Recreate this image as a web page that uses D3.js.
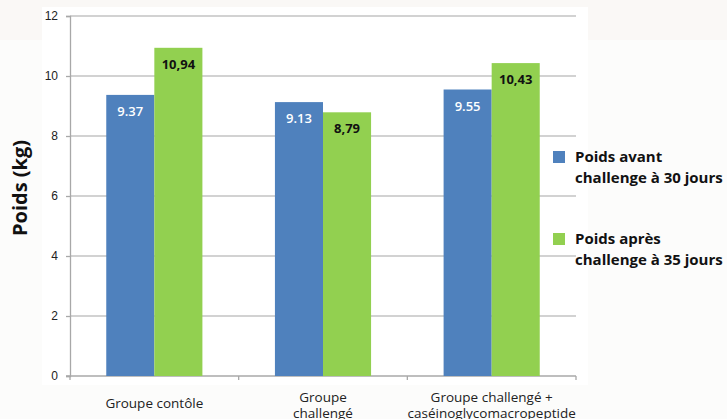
<!DOCTYPE html>
<html>
<head>
<meta charset="utf-8">
<script src="https://cdn.jsdelivr.net/npm/d3@7"></script>
<style>
  body { margin: 0; background: #fcfcfb; }
  svg { display: block; }
</style>
</head>
<body>
<svg id="chart"></svg>
<script>
var categories = [["Groupe contôle"], ["Groupe", "challengé"], ["Groupe challengé +", "caséinoglycomacropeptide"]];
var seriesNames = [["Poids avant", "challenge à 30 jours"], ["Poids après", "challenge à 35 jours"]];
var avant = [9.37, 9.13, 9.55];
var apres = [10.94, 8.79, 10.43];
var labelsAvant = ["9.37", "9.13", "9.55"];
var labelsApres = ["10,94", "8,79", "10,43"];
var yTicks = [0, 2, 4, 6, 8, 10, 12];

var width = 727, height = 419;
var margin = {top: 16, left: 70, right: 151, bottom: 43};
var colors = ["#4f81bd", "#92d050"];
var font = "Open Sans, Lato, sans-serif";

var svg = d3.select("#chart").attr("width", width).attr("height", height);

// backgrounds
svg.append("rect").attr("x", 0).attr("y", 0).attr("width", width).attr("height", 40).attr("fill", "#faf8f6");
svg.append("rect").attr("x", 42).attr("y", 7).attr("width", 546).attr("height", 378).attr("fill", "#ffffff");

var x0 = d3.scaleBand()
    .domain(d3.range(categories.length))
    .range([margin.left, width - margin.right])
    .paddingInner(0.43).paddingOuter(0.215);
var x1 = d3.scaleBand().domain([0, 1]).range([0, x0.bandwidth()]);
var y = d3.scaleLinear().domain([0, 12]).range([height - margin.bottom, margin.top]);

var fullBand = (width - margin.right - margin.left) / categories.length;

// gridlines
svg.append("g")
    .selectAll("line").data(yTicks.filter(function (d) { return d > 0; }))
    .enter().append("line")
    .attr("x1", margin.left).attr("x2", width - margin.right)
    .attr("y1", function (d) { return y(d); }).attr("y2", function (d) { return y(d); })
    .attr("stroke", "#c3c3c3").attr("stroke-width", 1.3);

// y axis
var yAxis = svg.append("g")
    .attr("transform", "translate(" + margin.left + ",0)")
    .call(d3.axisLeft(y).tickValues(yTicks).tickSize(4).tickPadding(8));
yAxis.select(".domain").attr("stroke", "#a8a8a8").attr("stroke-width", 1.3);
yAxis.selectAll(".tick line").attr("stroke", "#a8a8a8").attr("stroke-width", 1.3);
yAxis.selectAll("text").attr("font-family", "Liberation Sans, Arial, sans-serif")
    .attr("font-size", "12px").attr("fill", "#222");

// x axis line and ticks
var xa = svg.append("g");
xa.append("line").attr("x1", margin.left - 4).attr("x2", width - margin.right)
    .attr("y1", y(0)).attr("y2", y(0)).attr("stroke", "#a8a8a8").attr("stroke-width", 1.3);
xa.selectAll(".xt").data(d3.range(categories.length + 1))
    .enter().append("line")
    .attr("x1", function (d) { return margin.left + d * fullBand; })
    .attr("x2", function (d) { return margin.left + d * fullBand; })
    .attr("y1", y(0)).attr("y2", y(0) + 4)
    .attr("stroke", "#a8a8a8").attr("stroke-width", 1.3);

// bars
var rows = categories.map(function (c, i) {
    return [{i: i, s: 0, v: avant[i], t: labelsAvant[i]}, {i: i, s: 1, v: apres[i], t: labelsApres[i]}];
});
var groups = svg.selectAll(".grp").data(rows).enter().append("g")
    .attr("transform", function (d, i) { return "translate(" + x0(i) + ",0)"; });
groups.selectAll("rect").data(function (d) { return d; })
    .enter().append("rect")
    .attr("x", function (d) { return x1(d.s); })
    .attr("y", function (d) { return y(d.v); })
    .attr("width", x1.bandwidth())
    .attr("height", function (d) { return y(0) - y(d.v); })
    .attr("fill", function (d) { return colors[d.s]; });
groups.selectAll("text").data(function (d) { return d; })
    .enter().append("text")
    .attr("x", function (d) { return x1(d.s) + x1.bandwidth() / 2; })
    .attr("y", function (d) { return y(d.v) + 21; })
    .attr("text-anchor", "middle")
    .attr("font-family", font)
    .attr("font-weight", function (d) { return d.s === 0 ? "600" : "bold"; })
    .attr("font-size", "13px")
    .attr("fill", function (d) { return d.s === 0 ? "#ffffff" : "#111"; })
    .text(function (d) { return d.t; });

// category labels
svg.selectAll(".cat").data(categories).enter().append("text")
    .attr("text-anchor", "middle")
    .attr("font-family", font)
    .attr("font-size", "13.5px")
    .attr("fill", "#222")
    .each(function (d, i) {
        var t = d3.select(this);
        var cx = margin.left + (i + 0.5) * fullBand;
        var y0 = d.length === 1 ? 408 : 402;
        d.forEach(function (line, k) {
            t.append("tspan").attr("x", cx).attr("y", y0 + k * 16).text(line);
        });
    });

// y title
svg.append("text")
    .attr("transform", "translate(27,188) rotate(-90)")
    .attr("text-anchor", "middle")
    .attr("font-family", font)
    .attr("font-weight", "bold")
    .attr("font-size", "20px")
    .attr("fill", "#111")
    .text("Poids (kg)");

// legend
var legend = svg.selectAll(".leg").data(seriesNames).enter().append("g")
    .attr("transform", function (d, i) { return "translate(553," + (151 + i * 82) + ")"; });
legend.append("rect").attr("width", 12).attr("height", 12)
    .attr("fill", function (d, i) { return colors[i]; });
legend.append("text")
    .attr("font-family", font)
    .attr("font-weight", "bold")
    .attr("font-size", "15px")
    .attr("fill", "#111")
    .each(function (d) {
        var t = d3.select(this);
        d.forEach(function (line, k) {
            t.append("tspan").attr("x", 22).attr("y", 11 + k * 21).text(line);
        });
    });
</script>
</body>
</html>
